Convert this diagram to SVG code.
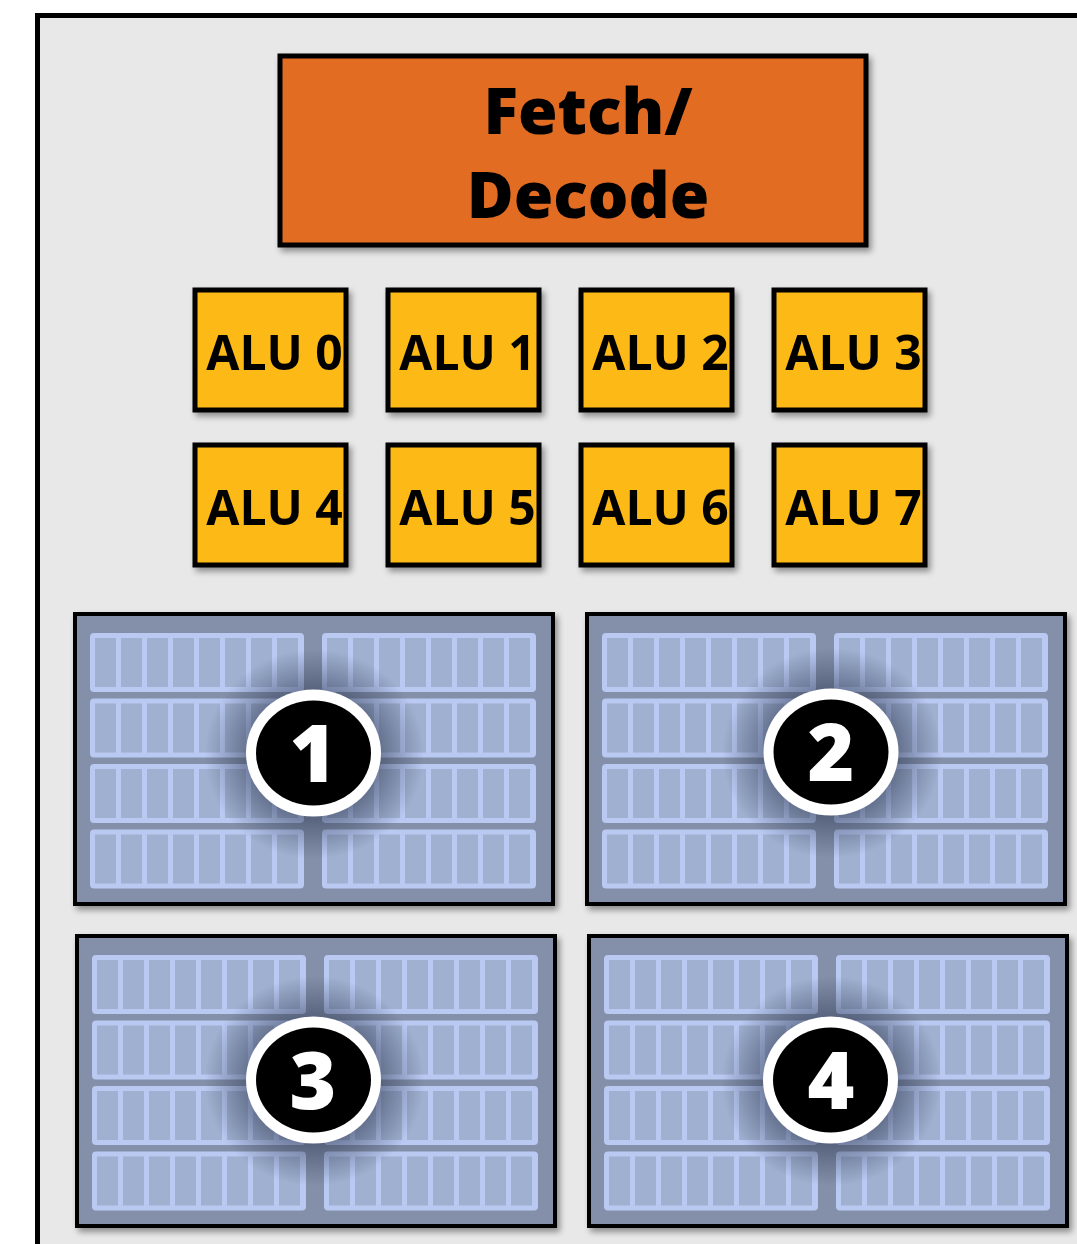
<svg xmlns="http://www.w3.org/2000/svg" xmlns:xlink="http://www.w3.org/1999/xlink" width="1077" height="1244" viewBox="0 0 1077 1244">
  <style>
    .alu rect { fill: #fdb913; stroke: #000; stroke-width: 5; }
    .alu text { font-family: "Open Sans", "Liberation Sans", sans-serif; font-weight: 700; font-size: 48px; fill: #000; text-anchor: middle; }
    .fd text { font-family: "Open Sans", "Liberation Sans", sans-serif; font-weight: 800; font-size: 64px; fill: #000; text-anchor: middle; }
    .num { font-family: "Open Sans", "Liberation Sans", sans-serif; font-weight: 800; font-size: 80px; fill: #fff; text-anchor: middle; }
    .bar { fill: #b9c9f2; }
    .cell { fill: #9fb0d0; }
  </style>
  <defs>
    <filter id="sh" x="-10%" y="-10%" width="130%" height="130%">
      <feGaussianBlur in="SourceAlpha" stdDeviation="3"/>
      <feOffset dx="3" dy="4" result="b"/>
      <feComponentTransfer><feFuncA type="linear" slope="0.4"/></feComponentTransfer>
      <feMerge><feMergeNode/><feMergeNode in="SourceGraphic"/></feMerge>
    </filter>
    <radialGradient id="glow">
      <stop offset="0.5" stop-color="#26304a" stop-opacity="0.6"/>
      <stop offset="1" stop-color="#26304a" stop-opacity="0"/>
    </radialGradient>
    <g id="cells">
      <rect class="bar" x="0" y="0" width="214" height="59" rx="4"/>
      <rect class="cell" x="5" y="5" width="21" height="49"/>
      <rect class="cell" x="31" y="5" width="21" height="49"/>
      <rect class="cell" x="57" y="5" width="21" height="49"/>
      <rect class="cell" x="83" y="5" width="21" height="49"/>
      <rect class="cell" x="109" y="5" width="21" height="49"/>
      <rect class="cell" x="135" y="5" width="21" height="49"/>
      <rect class="cell" x="161" y="5" width="21" height="49"/>
      <rect class="cell" x="187" y="5" width="21" height="49"/>
    </g>
    <g id="regblock">
      <rect x="2" y="2" width="478" height="290" fill="#8490aa" stroke="#000" stroke-width="4"/>
      <use xlink:href="#cells" x="17" y="21"/>
      <use xlink:href="#cells" x="249" y="21"/>
      <use xlink:href="#cells" x="17" y="86.5"/>
      <use xlink:href="#cells" x="249" y="86.5"/>
      <use xlink:href="#cells" x="17" y="152"/>
      <use xlink:href="#cells" x="249" y="152"/>
      <use xlink:href="#cells" x="17" y="217.5"/>
      <use xlink:href="#cells" x="249" y="217.5"/>
    </g>
    <g id="badge">
      <ellipse cx="1" cy="1" rx="110" ry="105" fill="url(#glow)"/>
      <ellipse cx="0" cy="0" rx="67.5" ry="63.5" fill="#fff"/>
      <ellipse cx="0" cy="0" rx="57.5" ry="52.5" fill="#000"/>
    </g>
  </defs>

  <rect x="37.5" y="15.5" width="1100" height="1300" fill="#e8e8e8" stroke="#000" stroke-width="5"/>

  <g id="fetch-decode" class="fd" filter="url(#sh)">
    <rect x="280" y="56" width="586" height="189" fill="#e26d24" stroke="#000" stroke-width="5"/>
    <text x="588" y="134">Fetch/</text>
    <text x="588" y="218">Decode</text>
  </g>

  <g id="alu0" class="alu" filter="url(#sh)"><rect x="195" y="290" width="151" height="120"/><text x="274.5" y="370">ALU 0</text></g>
  <g id="alu1" class="alu" filter="url(#sh)"><rect x="388" y="290" width="151" height="120"/><text x="467.5" y="370">ALU 1</text></g>
  <g id="alu2" class="alu" filter="url(#sh)"><rect x="581" y="290" width="151" height="120"/><text x="660.5" y="370">ALU 2</text></g>
  <g id="alu3" class="alu" filter="url(#sh)"><rect x="774" y="290" width="151" height="120"/><text x="853.5" y="370">ALU 3</text></g>
  <g id="alu4" class="alu" filter="url(#sh)"><rect x="195" y="445" width="151" height="120"/><text x="274.5" y="525">ALU 4</text></g>
  <g id="alu5" class="alu" filter="url(#sh)"><rect x="388" y="445" width="151" height="120"/><text x="467.5" y="525">ALU 5</text></g>
  <g id="alu6" class="alu" filter="url(#sh)"><rect x="581" y="445" width="151" height="120"/><text x="660.5" y="525">ALU 6</text></g>
  <g id="alu7" class="alu" filter="url(#sh)"><rect x="774" y="445" width="151" height="120"/><text x="853.5" y="525">ALU 7</text></g>

  <g id="regs1">
    <use xlink:href="#regblock" x="73" y="612" filter="url(#sh)"/>
    <use xlink:href="#badge" x="313.5" y="753"/>
    <text class="num" x="313" y="782">1</text>
  </g>
  <g id="regs2">
    <use xlink:href="#regblock" x="585" y="612" filter="url(#sh)"/>
    <use xlink:href="#badge" x="831" y="752"/>
    <text class="num" x="831" y="781">2</text>
  </g>
  <g id="regs3">
    <use xlink:href="#regblock" x="75" y="934" filter="url(#sh)"/>
    <use xlink:href="#badge" x="313.5" y="1080"/>
    <text class="num" x="313" y="1109">3</text>
  </g>
  <g id="regs4">
    <use xlink:href="#regblock" x="587" y="934" filter="url(#sh)"/>
    <use xlink:href="#badge" x="830.5" y="1080"/>
    <text class="num" x="831" y="1109">4</text>
  </g>

  <g id="connectors"/>
</svg>
